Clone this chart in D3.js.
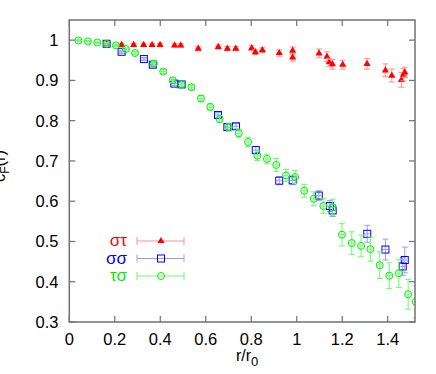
<!DOCTYPE html>
<html>
<head>
<meta charset="utf-8">
<script src="https://cdnjs.cloudflare.com/ajax/libs/d3/7.8.5/d3.min.js"></script>
<style>
  body { margin: 0; background: #fff; }
  text { font-family: "Liberation Sans", Arial, sans-serif; }
</style>
</head>
<body>
<div id="chart"></div>
<script>
// r/r0, value, y error
var stR   = [0.164, 0.23, 0.283, 0.327, 0.364, 0.399, 0.463, 0.49, 0.567, 0.655, 0.695, 0.732, 0.802, 0.818, 0.849, 0.923, 0.982, 0.982, 1.098, 1.133, 1.143, 1.157, 1.202, 1.309, 1.39, 1.418, 1.46, 1.469, 1.475];
var stVal = [0.991, 0.988, 0.988, 0.988, 0.988, 0.988, 0.987, 0.987, 0.979, 0.983, 0.979, 0.979, 0.980, 0.970, 0.975, 0.968, 0.974, 0.957, 0.967, 0.959, 0.945, 0.940, 0.939, 0.941, 0.925, 0.912, 0.901, 0.914, 0.920];
var stErr = [0.004, 0.004, 0.004, 0.004, 0.004, 0.004, 0.004, 0.004, 0.005, 0.005, 0.005, 0.005, 0.006, 0.006, 0.006, 0.008, 0.009, 0.009, 0.011, 0.012, 0.010, 0.012, 0.011, 0.013, 0.016, 0.016, 0.018, 0.015, 0.013];

var ssR   = [0.164, 0.23, 0.328, 0.367, 0.462, 0.494, 0.654, 0.695, 0.733, 0.82, 0.923, 0.982, 1.097, 1.146, 1.158, 1.31, 1.39, 1.466, 1.475];
var ssVal = [0.991, 0.971, 0.953, 0.939, 0.892, 0.890, 0.814, 0.784, 0.786, 0.727, 0.651, 0.652, 0.614, 0.588, 0.577, 0.519, 0.480, 0.438, 0.454];
var ssErr = [0.003, 0.004, 0.004, 0.005, 0.005, 0.005, 0.006, 0.007, 0.007, 0.009, 0.010, 0.011, 0.012, 0.014, 0.015, 0.021, 0.026, 0.022, 0.032];

var tsR   = [0.04, 0.082, 0.123, 0.164, 0.205, 0.249, 0.289, 0.372, 0.413, 0.455, 0.494, 0.537, 0.579, 0.62, 0.661, 0.702, 0.745, 0.786, 0.827, 0.869, 0.91, 0.953, 0.993, 1.033, 1.075, 1.117, 1.158, 1.199, 1.242, 1.283, 1.324, 1.365, 1.407, 1.449, 1.49, 1.523];
var tsVal = [0.999, 0.997, 0.994, 0.991, 0.987, 0.978, 0.968, 0.942, 0.922, 0.900, 0.890, 0.883, 0.855, 0.834, 0.804, 0.784, 0.769, 0.747, 0.713, 0.705, 0.690, 0.664, 0.660, 0.626, 0.606, 0.588, 0.585, 0.517, 0.496, 0.489, 0.481, 0.441, 0.415, 0.421, 0.369, 0.350];
var tsErr = [0.002, 0.002, 0.002, 0.003, 0.003, 0.003, 0.004, 0.005, 0.005, 0.006, 0.006, 0.006, 0.007, 0.008, 0.009, 0.010, 0.010, 0.011, 0.012, 0.012, 0.016, 0.015, 0.016, 0.016, 0.017, 0.018, 0.020, 0.028, 0.028, 0.027, 0.030, 0.033, 0.032, 0.035, 0.037, 0.040];

var xErr = 0.012;

var xTicks = [0, 0.2, 0.4, 0.6, 0.8, 1, 1.2, 1.4];
var yTicks = [0.3, 0.4, 0.5, 0.6, 0.7, 0.8, 0.9, 1];

var width = 436, height = 374;
var margin = {left: 69.3, right: 21, top: 20, bottom: 52};

var svg = d3.select("#chart").append("svg")
    .attr("width", width)
    .attr("height", height);

var x = d3.scaleLinear().domain([0, 1.52]).range([margin.left, width - margin.right]);
var y = d3.scaleLinear().domain([0.3, 1.05]).range([height - margin.bottom, margin.top]);

var x0 = x.range()[0], x1 = x.range()[1], y0 = y.range()[0], y1 = y.range()[1];

function zip(rs, vs, es) {
  return rs.map(function (r, i) { return {r: r, v: vs[i], e: es[i]}; });
}

var series = [
  {name: "στ", color: "#ff0000", bar: "#ff8f8f", shape: "tri", data: zip(stR, stVal, stErr)},
  {name: "σσ", color: "#0000ff", bar: "#9a9aff", shape: "sq",  data: zip(ssR, ssVal, ssErr)},
  {name: "τσ", color: "#00ee00", bar: "#66ff66", shape: "circ", data: zip(tsR, tsVal, tsErr)}
];

svg.append("clipPath").attr("id", "plotclip")
  .append("rect").attr("x", x0).attr("y", y1).attr("width", x1 - x0).attr("height", y0 - y1);

// ticks (inward on all four sides)
var axisColor = "#707070", tk = 6;
var ticks = svg.append("g").attr("stroke", axisColor).attr("stroke-width", 1.2);
xTicks.forEach(function (t) {
  ticks.append("line").attr("x1", x(t)).attr("x2", x(t)).attr("y1", y0).attr("y2", y0 - tk);
  ticks.append("line").attr("x1", x(t)).attr("x2", x(t)).attr("y1", y1).attr("y2", y1 + tk);
});
yTicks.forEach(function (t) {
  ticks.append("line").attr("x1", x0).attr("x2", x0 + tk).attr("y1", y(t)).attr("y2", y(t));
  ticks.append("line").attr("x1", x1).attr("x2", x1 - tk).attr("y1", y(t)).attr("y2", y(t));
});

// tick labels
svg.append("g").selectAll("text").data(xTicks).enter().append("text")
  .attr("x", function (d) { return x(d); })
  .attr("y", 345)
  .attr("text-anchor", "middle")
  .attr("font-size", "16.5px")
  .text(function (d) { return d3.format("~g")(d); });

svg.append("g").selectAll("text").data(yTicks).enter().append("text")
  .attr("x", 58.5)
  .attr("y", function (d) { return y(d) + 6; })
  .attr("text-anchor", "end")
  .attr("font-size", "16.5px")
  .text(function (d) { return d3.format("~g")(d); });

// axis titles
var xl = svg.append("text").attr("x", 236).attr("y", 361).attr("font-size", "16px").attr("text-anchor", "start");
xl.append("tspan").text("r/r");
xl.append("tspan").attr("dy", 5).attr("font-size", "13px").text("0");

// the reference crops this label at the left edge
var yl = svg.append("text")
  .attr("transform", "translate(5,166) rotate(-90)")
  .attr("text-anchor", "middle")
  .attr("font-size", "16.5px");
yl.append("tspan").text("c");
yl.append("tspan").attr("dy", 4).attr("font-size", "12px").text("F");
yl.append("tspan").attr("dy", -4).text("(r)");

function drawMarker(g, shape, color) {
  if (shape == "tri") {
    g.append("path").attr("d", d3.symbol().type(d3.symbolTriangle).size(22)()).attr("fill", color);
  } else if (shape == "sq") {
    g.append("rect").attr("x", -3.5).attr("y", -3.5).attr("width", 7).attr("height", 7)
      .attr("fill", "none").attr("stroke", color).attr("stroke-width", 1);
  } else {
    g.append("circle").attr("r", 3.5).attr("fill", "none").attr("stroke", color).attr("stroke-width", 1);
  }
}

var plot = svg.append("g").attr("clip-path", "url(#plotclip)");
var cap = 3;

series.forEach(function (s) {
  var g = plot.append("g");
  var pts = g.selectAll("g").data(s.data).enter().append("g");

  // y error bar with caps
  pts.append("line").attr("stroke", s.bar)
    .attr("x1", function (d) { return x(d.r); }).attr("x2", function (d) { return x(d.r); })
    .attr("y1", function (d) { return y(d.v - d.e); }).attr("y2", function (d) { return y(d.v + d.e); });
  pts.append("line").attr("stroke", s.bar)
    .attr("x1", function (d) { return x(d.r) - cap; }).attr("x2", function (d) { return x(d.r) + cap; })
    .attr("y1", function (d) { return y(d.v - d.e); }).attr("y2", function (d) { return y(d.v - d.e); });
  pts.append("line").attr("stroke", s.bar)
    .attr("x1", function (d) { return x(d.r) - cap; }).attr("x2", function (d) { return x(d.r) + cap; })
    .attr("y1", function (d) { return y(d.v + d.e); }).attr("y2", function (d) { return y(d.v + d.e); });
  // x error bar
  pts.append("line").attr("stroke", s.bar)
    .attr("x1", function (d) { return x(d.r - xErr); }).attr("x2", function (d) { return x(d.r + xErr); })
    .attr("y1", function (d) { return y(d.v); }).attr("y2", function (d) { return y(d.v); });

  pts.each(function (d) {
    var m = d3.select(this).append("g").attr("transform", "translate(" + x(d.r) + "," + y(d.v) + ")");
    drawMarker(m, s.shape, s.color);
  });
});

// legend
var legY = [241, 258.5, 276];
series.forEach(function (s, i) {
  var lg = svg.append("g").attr("transform", "translate(0," + legY[i] + ")");
  lg.append("text").attr("x", 127).attr("y", 5)
    .attr("text-anchor", "end")
    .attr("font-family", "'Liberation Serif', serif")
    .attr("font-size", "17px")
    .attr("fill", s.color)
    .text(s.name);
  lg.append("line").attr("x1", 137).attr("x2", 184).attr("y1", 0).attr("y2", 0).attr("stroke", s.bar);
  lg.append("line").attr("x1", 137).attr("x2", 137).attr("y1", -4).attr("y2", 4).attr("stroke", s.bar);
  lg.append("line").attr("x1", 184).attr("x2", 184).attr("y1", -4).attr("y2", 4).attr("stroke", s.bar);
  var m = lg.append("g").attr("transform", "translate(161,0)");
  drawMarker(m, s.shape, s.color);
});

// frame
svg.append("rect")
  .attr("x", x0).attr("y", y1).attr("width", x1 - x0).attr("height", y0 - y1)
  .attr("fill", "none").attr("stroke", axisColor).attr("stroke-width", 1.5);
</script>
</body>
</html>
